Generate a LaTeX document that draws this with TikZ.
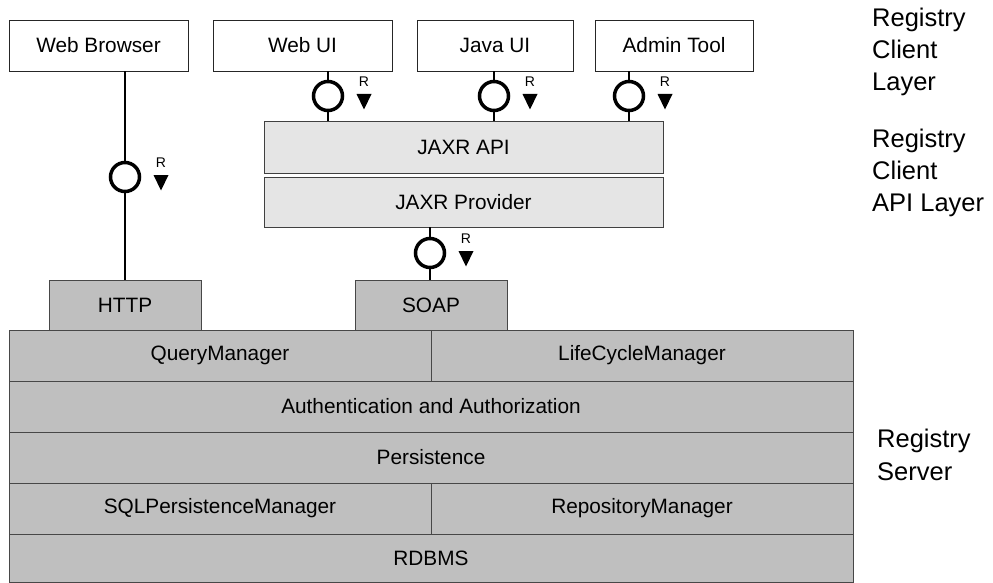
\documentclass[tikz,border=0pt]{standalone}
\usepackage{fontspec}
\setmainfont{Liberation Sans}
\newcommand\ifacesym[3]{%
  \node[iface] (#1) at (#2,#3) {};
  \node[rlab] (#1r) at ([shift={(36,-14)}]#1.center) {R};
  \fill[black] ([shift={(28.5,-2)}]#1.center) -- ([shift={(43.5,-2)}]#1.center) -- ([shift={(36,13.5)}]#1.center) -- cycle;
}
\begin{document}
\begin{tikzpicture}[x=1pt,y=-1pt,
  basebox/.style={rectangle, inner sep=0pt, line width=0.9pt, text=black,
    font=\fontsize{20.8}{24}\selectfont},
  clientbox/.style={basebox, draw=black!85, fill=white},
  apibox/.style={basebox, draw=black!75, fill=black!10},
  srvbox/.style={basebox, draw=black!72, fill=black!25},
  iface/.style={circle, draw=black, line width=3.5pt, fill=white, minimum size=29pt, inner sep=0pt},
  rlab/.style={inner sep=0pt, font=\fontsize{14}{16}\selectfont},
  conn/.style={draw=black, line width=1.8pt},
  sidelab/.style={anchor=base west, inner sep=0pt, font=\fontsize{25.5}{30}\selectfont},
]
\useasboundingbox (0,0) rectangle (993,583);

% client layer
\node[clientbox, minimum width=179pt, minimum height=51pt] (wb) at (98.5,45.5) {Web Browser};
\node[clientbox, minimum width=179pt, minimum height=51pt] (webui) at (302.5,45.5) {Web UI};
\node[clientbox, minimum width=156pt, minimum height=51pt] (javaui) at (495,45.5) {Java UI};
\node[clientbox, minimum width=158pt, minimum height=51pt] (admin) at (674,45.5) {Admin Tool};

% client API layer
\node[apibox, minimum width=399pt, minimum height=52pt] (jaxrapi) at (463.5,147) {JAXR API};
\node[apibox, minimum width=399pt, minimum height=50pt] (jaxrprov) at (463.5,202) {JAXR Provider};

% server
\node[srvbox, minimum width=152pt, minimum height=50pt] (http) at (125,305) {HTTP};
\node[srvbox, minimum width=152pt, minimum height=50pt] (soap) at (431,305) {SOAP};
\node[srvbox, minimum width=422pt, minimum height=51pt] (qm) at (220,355.5) {QueryManager};
\node[srvbox, minimum width=422pt, minimum height=51pt] (lcm) at (642,355.5) {LifeCycleManager};
\node[srvbox, minimum width=844pt, minimum height=51pt] (auth) at (431,406.5) {Authentication and Authorization};
\node[srvbox, minimum width=844pt, minimum height=51pt] (pers) at (431,457.5) {Persistence};
\node[srvbox, minimum width=422pt, minimum height=51pt] (sql) at (220,508.5) {SQLPersistenceManager};
\node[srvbox, minimum width=422pt, minimum height=51pt] (repo) at (642,508.5) {RepositoryManager};
\node[srvbox, minimum width=844pt, minimum height=48pt] (rdbms) at (431,558) {RDBMS};

% connectors
\draw[conn] (125,0 |- wb.south) -- (125,0 |- http.north);
\draw[conn] (328,0 |- webui.south) -- (328,0 |- jaxrapi.north);
\draw[conn] (494,0 |- javaui.south) -- (494,0 |- jaxrapi.north);
\draw[conn] (629,0 |- admin.south) -- (629,0 |- jaxrapi.north);
\draw[conn] (430,0 |- jaxrprov.south) -- (430,0 |- soap.north);

% interface symbols
\ifacesym{iwb}{125}{177}
\ifacesym{iwebui}{328}{96}
\ifacesym{ijava}{494}{96}
\ifacesym{iadmin}{629}{96}
\ifacesym{isoap}{430}{253}

% side labels
\node[sidelab] (l1a) at (872,27) {Registry};
\node[sidelab] (l1b) at (872,59) {Client};
\node[sidelab] (l1c) at (872,91) {Layer};
\node[sidelab] (l2a) at (872,147) {Registry};
\node[sidelab] (l2b) at (872,179) {Client};
\node[sidelab] (l2c) at (872,211) {API Layer};
\node[sidelab] (l3a) at (877,447) {Registry};
\node[sidelab] (l3b) at (877,480) {Server};
\end{tikzpicture}
\end{document}
